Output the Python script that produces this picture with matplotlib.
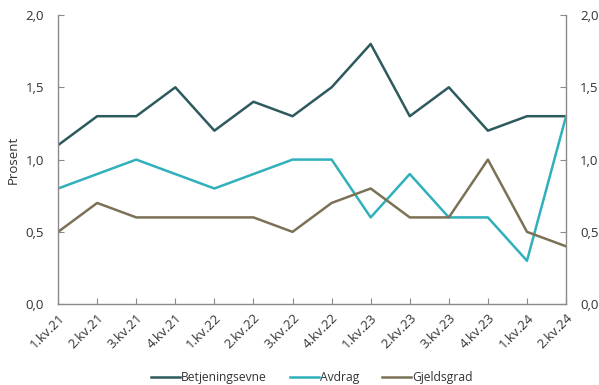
import matplotlib
matplotlib.use("Agg")
import matplotlib.pyplot as plt
from matplotlib.ticker import FuncFormatter, MultipleLocator

plt.rcParams['font.family'] = ['Open Sans', 'DejaVu Sans']

quarters = ["1.kv.21", "2.kv.21", "3.kv.21", "4.kv.21", "1.kv.22", "2.kv.22", "3.kv.22",
            "4.kv.22", "1.kv.23", "2.kv.23", "3.kv.23", "4.kv.23", "1.kv.24", "2.kv.24"]
betjeningsevne = [1.1, 1.3, 1.3, 1.5, 1.2, 1.4, 1.3, 1.5, 1.8, 1.3, 1.5, 1.2, 1.3, 1.3]
avdrag = [0.8, 0.9, 1.0, 0.9, 0.8, 0.9, 1.0, 1.0, 0.6, 0.9, 0.6, 0.6, 0.3, 1.3]
gjeldsgrad = [0.5, 0.7, 0.6, 0.6, 0.6, 0.6, 0.5, 0.7, 0.8, 0.6, 0.6, 1.0, 0.5, 0.4]

series = [
    ("Betjeningsevne", betjeningsevne, "#2e5a5e"),
    ("Avdrag", avdrag, "#2fb0bb"),
    ("Gjeldsgrad", gjeldsgrad, "#7b7256"),
]

fig = plt.figure(figsize=(5.99, 3.85), dpi=100)
ax = fig.add_axes([0.097, 0.21, 0.848, 0.751])
x = list(range(len(quarters)))
for name, vals, col in series:
    ax.plot(x, vals, color=col, lw=1.8, label=name)

ax.set_xlim(0, len(quarters) - 1)
ax.set_ylim(0, 2.0)
ax.yaxis.set_major_locator(MultipleLocator(0.5))
fmt = FuncFormatter(lambda v, p: f"{v:.1f}".replace(".", ","))
ax.yaxis.set_major_formatter(fmt)
ax.set_xticks(x)
ax.set_xticklabels(quarters, rotation=45, ha="right", rotation_mode="anchor")

spine_col = "#8a8a8a"
for s in ["left", "right", "bottom"]:
    ax.spines[s].set_color(spine_col)
    ax.spines[s].set_linewidth(1.0)
ax.spines["top"].set_visible(False)

ax2 = ax.twinx()
ax2.set_ylim(0, 2.0)
ax2.yaxis.set_major_locator(MultipleLocator(0.5))
ax2.yaxis.set_major_formatter(fmt)
for s in ["left", "right", "bottom", "top"]:
    ax2.spines[s].set_visible(False)

txt = "#333333"
fs = 9.5
ax.tick_params(axis="y", colors=spine_col, labelcolor=txt, labelsize=fs, length=4, direction="in", pad=10)
ax2.tick_params(axis="y", colors=spine_col, labelcolor=txt, labelsize=fs, length=4, direction="in", pad=10)
ax.tick_params(axis="x", colors=spine_col, labelcolor=txt, labelsize=fs, length=4, direction="in", pad=5)
ax.set_ylabel("Prosent", color=txt, fontsize=fs, labelpad=4)

ax.legend(loc="lower center", bbox_to_anchor=(0.5, -0.315), ncol=3, frameon=False,
          fontsize=8.7, handlelength=2.4, handletextpad=0.1, columnspacing=1.9,
          labelcolor=txt)

fig.savefig("out.png", dpi=100)
